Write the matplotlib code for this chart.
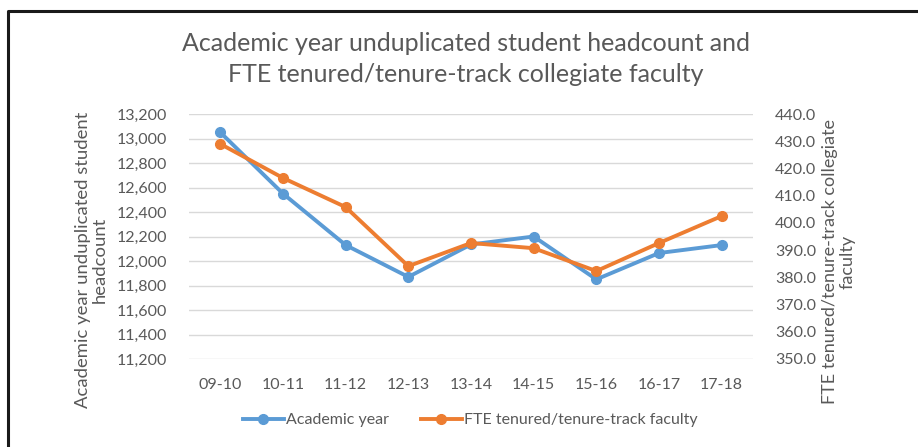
import matplotlib.pyplot as plt
from matplotlib.lines import Line2D

years = ['09-10', '10-11', '11-12', '12-13', '13-14', '14-15', '15-16', '16-17', '17-18']
headcount = [13050, 12550, 12130, 11870, 12135, 12200, 11850, 12065, 12130]
fte = [429.0, 416.5, 405.8, 384.1, 392.6, 390.7, 382.3, 392.6, 402.5]

blue = '#5B9BD5'
orange = '#ED7D31'
txt = '#595959'
plt.rcParams['font.family'] = ['Lato', 'DejaVu Sans']

W, H = 918, 447
fig = plt.figure(figsize=(W / 100, H / 100), dpi=100)
ax = fig.add_axes([189 / W, 1 - 359 / H, (753 - 189) / W, (359 - 114) / H])
ax2 = ax.twinx()

x = list(range(len(years)))
ax.plot(x, headcount, color=blue, lw=2.8, marker='o', ms=7, zorder=3)
ax2.plot(x, fte, color=orange, lw=2.8, marker='o', ms=7, zorder=3)

ax.set_xlim(-0.5, len(years) - 0.5)
ax.set_ylim(11200, 13200)
ax.set_yticks(range(11200, 13201, 200))
ax.set_yticklabels([f'{v:,}' for v in range(11200, 13201, 200)])
ax2.set_ylim(350, 440)
ax2.set_yticks(range(350, 441, 10))
ax2.set_yticklabels([f'{v:.1f}' for v in range(350, 441, 10)])
ax.set_xticks(x)
ax.set_xticklabels(years)

ax.grid(axis='y', color='#D9D9D9', lw=1)
ax.set_axisbelow(True)
for a in (ax, ax2):
    for s in a.spines.values():
        s.set_visible(False)
    a.tick_params(length=0, colors=txt, labelsize=11.5)
ax.tick_params(axis='y', pad=16)
ax.tick_params(axis='x', pad=14)
ax2.tick_params(axis='y', pad=16)

# axis titles
fig.text(91 / W, 1 - 260 / H, 'Academic year unduplicated student\nheadcount',
         rotation=90, ha='center', va='center', fontsize=13.3, color=txt,
         linespacing=1.05)
fig.text(839 / W, 1 - 262 / H, 'FTE tenured/tenure-track collegiate\nfaculty',
         rotation=90, ha='center', va='center', fontsize=13, color=txt,
         linespacing=1.1)
fig.text(466 / W, 1 - 59 / H,
         'Academic year unduplicated student headcount and\nFTE tenured/tenure-track collegiate faculty',
         ha='center', va='center', fontsize=18, color=txt, linespacing=1.4)

handles = [Line2D([], [], color=blue, lw=2.8, marker='o', ms=7),
           Line2D([], [], color=orange, lw=2.8, marker='o', ms=7)]
fig.legend(handles, ['Academic year', 'FTE tenured/tenure-track faculty'],
           loc='center', bbox_to_anchor=(470 / W, 1 - 420 / H), ncol=2,
           frameon=False, fontsize=11.5, labelcolor=txt, handlelength=2.6,
           handletextpad=0.1, columnspacing=2.0)

# frame of the embedded picture
fig.add_artist(Line2D([8 / W, 8 / W, 1], [0, 1 - 11 / H, 1 - 11 / H],
                      color='#1a1a1a', lw=2.2))

fig.savefig('out.png', dpi=100)
